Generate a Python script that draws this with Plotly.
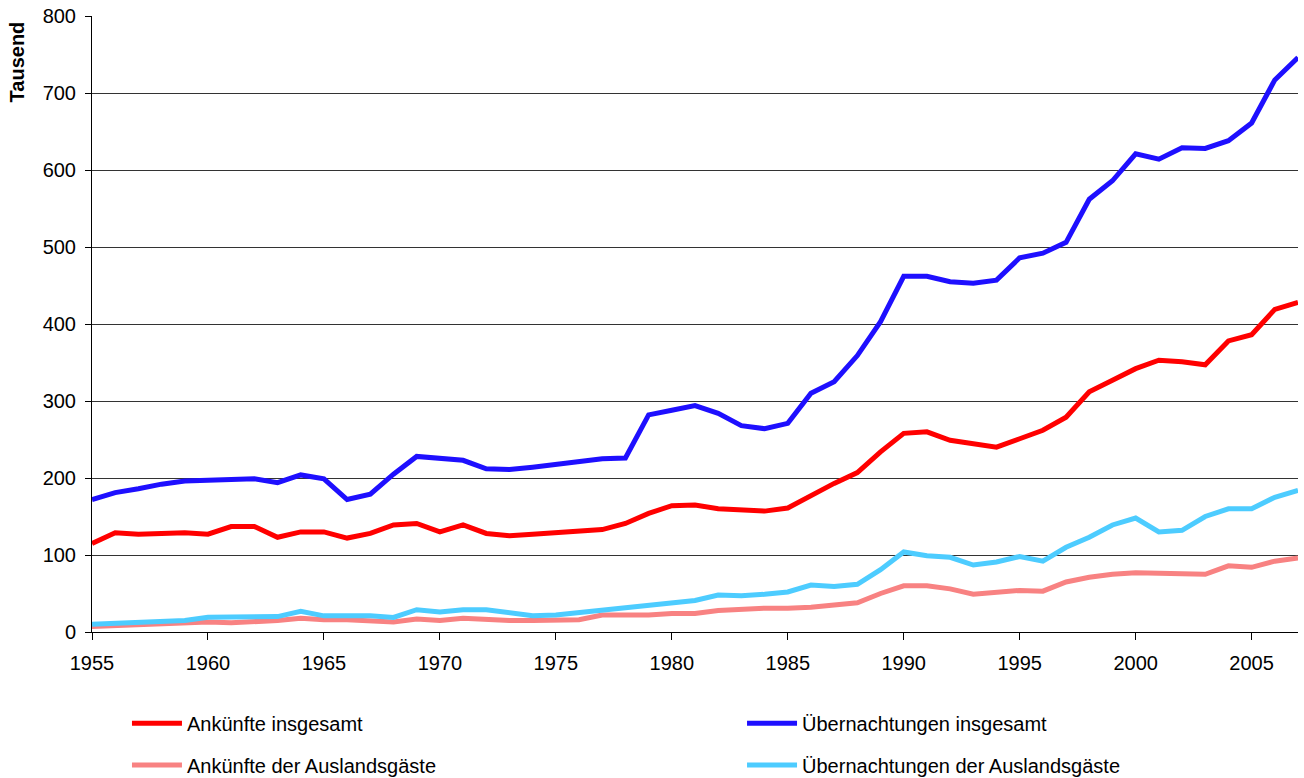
import plotly.graph_objects as go

years = list(range(1955, 2008))

# Übernachtungen insgesamt (Tausend)
uebernachtungen_gesamt = [
    172, 181, 186, 192, 196, 197, 199, 199, 194, 204,
    199, 172, 179, 205, 228, 225, 223, 212, 211, 214,
    218, 221, 225, 226, 282, 288, 294, 284, 268, 264,
    271, 310, 325, 359, 403, 462, 462, 455, 453, 457,
    486, 492, 506, 562, 586, 621, 614, 629, 628, 638,
    661, 717, 746,
]

# Ankünfte insgesamt (Tausend)
ankuenfte_gesamt = [
    115, 129, 127, 128, 129, 127, 137, 137, 123, 130,
    130, 122, 128, 139, 141, 130, 139, 128, 125, 127,
    129, 131, 133, 141, 154, 164, 165, 160, 159, 157,
    161, 177, 193, 207, 234, 258, 260, 249, 245, 240,
    251, 262, 279, 312, 327, 342, 353, 351, 347, 378,
    386, 419, 428,
]

# Übernachtungen der Auslandsgäste (Tausend)
uebernachtungen_ausland = [
    10, 11, 12, 13, 15, 19, 19, 19, 20, 27,
    21, 21, 21, 19, 29, 26, 29, 29, 25, 21,
    22, 25, 29, 32, 35, 38, 41, 48, 47, 49,
    52, 61, 59, 62, 81, 104, 99, 97, 87, 91,
    98, 92, 110, 123, 139, 148, 130, 132, 150, 160,
    160, 175, 184,
]

# Ankünfte der Auslandsgäste (Tausend)
ankuenfte_ausland = [
    7, 8, 9, 10, 11, 13, 12, 13, 15, 18,
    16, 16, 15, 13, 17, 15, 18, 16, 15, 15,
    16, 16, 22, 22, 22, 24, 24, 28, 30, 31,
    31, 32, 35, 38, 50, 60, 60, 56, 49, 52,
    54, 53, 65, 71, 75, 77, 76, 75, 75, 86,
    84, 92, 96,
]

x_ticks = list(range(1955, 2006, 5))
y_ticks = list(range(0, 801, 100))

FONT = "Liberation Sans, Arial, sans-serif"

fig = go.Figure()

# name, values, colour, legend id, legend position (column x, row y)
series = [
    ("Ankünfte der Auslandsgäste", ankuenfte_ausland, "#F88282", "legend3", 0.029, -0.216),
    ("Übernachtungen der Auslandsgäste", uebernachtungen_ausland, "#4DCCFF", "legend4", 0.539, -0.216),
    ("Ankünfte insgesamt", ankuenfte_gesamt, "#FF0000", "legend", 0.029, -0.148),
    ("Übernachtungen insgesamt", uebernachtungen_gesamt, "#1E0FFF", "legend2", 0.539, -0.148),
]

legend_layouts = {}
for name, vals, color, lg, lx, ly in series:
    fig.add_trace(go.Scatter(
        x=years, y=vals, name=name, mode="lines",
        line=dict(color=color, width=5),
        legend=lg, showlegend=True,
    ))
    legend_layouts[lg] = dict(
        x=lx, y=ly,
        orientation="h",
        itemwidth=50,
        font=dict(family=FONT, size=20, color="#000000"),
        bgcolor="rgba(0,0,0,0)",
        xanchor="left",
        yanchor="middle",
        visible=True,
    )

fig.update_layout(
    width=1304,
    height=778,
    showlegend=True,
    margin=dict(l=92, r=6, t=16, b=146, autoexpand=False),
    paper_bgcolor="white",
    plot_bgcolor="white",
    font=dict(family=FONT, size=19, color="#000000"),
    xaxis=dict(
        range=[1955, 2007],
        tickmode="array",
        tickvals=x_ticks,
        ticks="outside",
        ticklen=7,
        tickcolor="#000000",
        ticklabelstandoff=6,
        showgrid=False,
        showline=True,
        linecolor="#000000",
        linewidth=1,
        zeroline=False,
        tickfont=dict(family=FONT, size=20),
    ),
    yaxis=dict(
        range=[0, 800],
        tickmode="array",
        tickvals=y_ticks,
        ticks="outside",
        ticklen=6,
        tickcolor="#000000",
        ticklabelstandoff=5,
        showgrid=True,
        gridcolor="#333333",
        gridwidth=1,
        showline=True,
        linecolor="#000000",
        linewidth=1,
        zeroline=False,
        tickfont=dict(family=FONT, size=20),
    ),
    annotations=[
        dict(
            text="<b>Tausend</b>",
            xref="paper", yref="paper",
            x=-0.062, y=0.925,
            xanchor="center", yanchor="middle",
            textangle=-90, showarrow=False,
            font=dict(family=FONT, size=20, color="#000000"),
        )
    ],
    **legend_layouts,
)

fig.write_html("out.html")
